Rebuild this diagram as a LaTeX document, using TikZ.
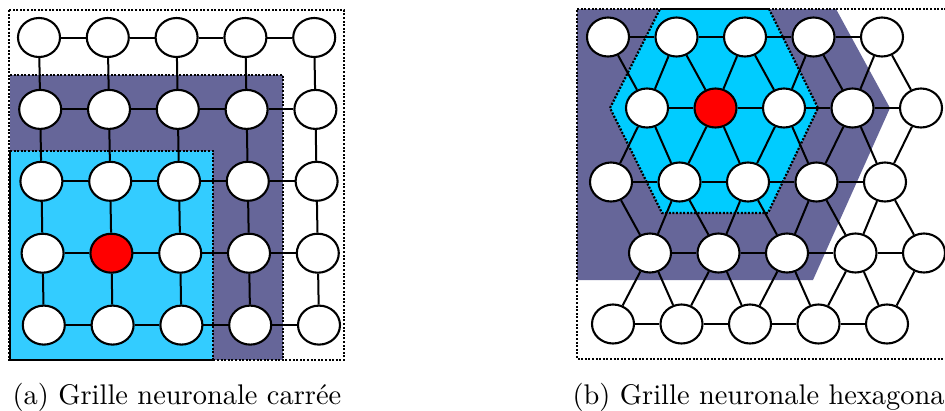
\documentclass[tikz,border=0pt]{standalone}
\usetikzlibrary{shapes.geometric}
\definecolor{purp}{RGB}{102,102,153}
\definecolor{cyanL}{RGB}{51,204,255}
\definecolor{cyanR}{RGB}{0,204,255}
\begin{document}
\begin{tikzpicture}[x=1pt,y=-1pt,
  neuron/.style={ellipse, draw, line width=2.1pt, fill=white, minimum width=42pt, minimum height=39pt, inner sep=0pt},
  link/.style={line width=2pt},
  dotb/.style={line width=2.2pt, dash pattern=on 2pt off 1.6pt},
  solidb/.style={line width=2.2pt},
  caption/.style={anchor=base west, inner sep=0pt, scale=2.84}]
\useasboundingbox (0,0) rectangle (945,410);
% ---------- left: square grid ----------
\fill[purp] (10,75) rectangle (283,360);
\fill[cyanL] (10,151) rectangle (213,360);
\draw[dotb] (9,10) rectangle (344,360);
\draw[dotb] (10,75) -- (283,75) -- (283,360);
\draw[dotb] (10,151) -- (213,151) -- (213,360);
\draw[solidb] (10,151) -- (10,360) -- (213,360);
\foreach \r in {1,...,5}{\foreach \c in {1,...,5}{
  \ifnum\r\c=42 \def\nf{red}\else\def\nf{white}\fi
  \node[neuron,fill=\nf] (L\r\c) at ({39+68.8*(\c-1)+1.2*(\r-1)},{37.5+71.9*(\r-1)}) {};
}}
\foreach \r in {1,...,5}{\foreach \c/\d in {1/2,2/3,3/4,4/5}{
  \draw[link] (L\r\c) -- (L\r\d);
  \draw[link] (L\c\r) -- (L\d\r);
}}
% ---------- right: hexagonal grid ----------
\fill[purp] (577,9) -- (836,9) -- (890,108) -- (813,280) -- (577,280) -- cycle;
\fill[cyanR] (660,9) -- (769,9) -- (818,108) -- (768,213) -- (662,213) -- (610,108) -- cycle;
\draw[dotb] (769,9) -- (818,108) -- (768,213) -- (662,213) -- (610,108) -- (660,9);
\draw[solidb] (660,9) -- (769,9);
\draw[dotb] (950,9) -- (577,9) -- (577,359) -- (950,359);
\foreach \r/\xo/\yo in {1/608/37,2/647/108,3/611/182,4/650/253,5/613/324}{\foreach \c in {1,...,5}{
  \ifnum\r\c=22 \def\nf{red}\else\def\nf{white}\fi
  \node[neuron,fill=\nf] (H\r\c) at ({\xo+68.5*(\c-1)},\yo) {};
}}
\foreach \r in {1,...,5}{\foreach \c/\d in {1/2,2/3,3/4,4/5}{
  \draw[link] (H\r\c) -- (H\r\d);
}}
% rows 1->2 and 3->4 : lower row shifted right
\foreach \r/\s in {1/2,3/4}{
  \foreach \c in {1,...,5}{\draw[link] (H\r\c) -- (H\s\c);}
  \foreach \c/\d in {2/1,3/2,4/3,5/4}{\draw[link] (H\r\c) -- (H\s\d);}
}
% rows 2->3 and 4->5 : lower row shifted left
\foreach \r/\s in {2/3,4/5}{
  \foreach \c in {1,...,5}{\draw[link] (H\r\c) -- (H\s\c);}
  \foreach \c/\d in {1/2,2/3,3/4,4/5}{\draw[link] (H\r\c) -- (H\s\d);}
}
% ---------- captions ----------
\node[caption] (capa) at (12,404) {(a) Grille neuronale carrée};
\node[caption] (capb) at (572,404) {(b) Grille neuronale hexagonale};
\end{tikzpicture}
\end{document}
